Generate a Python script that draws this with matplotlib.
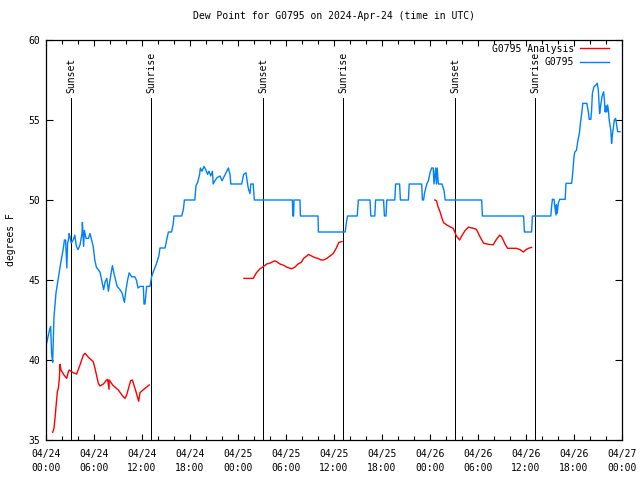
import numpy as np
import matplotlib
matplotlib.use("Agg")
import matplotlib.pyplot as plt

# ---- data (hours since 2024-04-24 00:00 UTC, dew point in F) ----
obs_points = [
    (0.0, 40.9), (0.17, 41.25), (0.4, 41.8), (0.58, 42.1), (0.7, 40.4), (0.83, 39.85), (1.0, 42.7),
    (1.25, 44.2), (1.5, 45.0), (1.75, 45.8), (1.9, 46.25), (2.0, 46.5), (2.2, 47.1), (2.3, 47.5),
    (2.45, 47.5), (2.6, 45.75), (2.7, 47.3), (2.8, 47.5), (2.9, 47.9), (3.0, 47.7), (3.15, 47.3),
    (3.4, 47.5), (3.6, 47.8), (3.8, 47.1), (4.0, 46.9), (4.25, 47.2), (4.5, 47.9), (4.55, 48.6),
    (4.7, 47.1), (4.8, 48.1), (5.0, 47.6), (5.3, 47.6), (5.5, 47.9), (5.7, 47.5), (5.9, 47.1),
    (6.1, 46.25), (6.3, 45.8), (6.75, 45.5), (6.95, 45.0), (7.2, 44.4), (7.4, 44.9), (7.6, 45.1),
    (7.8, 44.3), (8.0, 45.0), (8.2, 45.6), (8.3, 45.9), (8.5, 45.4), (8.7, 45.0), (8.9, 44.6),
    (9.25, 44.4), (9.5, 44.2), (9.8, 43.6), (10.0, 44.4), (10.2, 45.0), (10.4, 45.45), (10.7, 45.2),
    (11.1, 45.2), (11.3, 45.0), (11.5, 44.5), (11.75, 44.6), (12.17, 44.6), (12.25, 43.5),
    (12.375, 43.5), (12.58, 44.6), (13.0, 44.6), (13.2, 45.2), (13.4, 45.5), (13.8, 46.0),
    (14.1, 46.5), (14.25, 47.0), (14.88, 47.0), (15.08, 47.5), (15.3, 48.0), (15.7, 48.0),
    (15.9, 48.5), (16.0, 49.0), (16.96, 49.0), (17.17, 49.4), (17.3, 50.0), (18.6, 50.0),
    (18.75, 50.9), (18.96, 51.1), (19.2, 51.6), (19.3, 52.0), (19.5, 51.8), (19.75, 52.1),
    (19.96, 51.9), (20.2, 51.6), (20.375, 51.8), (20.6, 51.5), (20.8, 51.8), (20.9, 51.0),
    (21.1, 51.2), (21.4, 51.4), (21.75, 51.5), (22.0, 51.2), (22.3, 51.5), (22.6, 51.8),
    (22.8, 52.0), (23.0, 51.6), (23.1, 51.0), (24.46, 51.0), (24.7, 51.6), (25.0, 51.7),
    (25.2, 51.0), (25.3, 50.7), (25.5, 50.4), (25.6, 51.0), (25.9, 51.0), (26.04, 50.0),
    (30.8, 50.0), (30.85, 49.0), (30.95, 49.0), (31.0, 50.0), (31.75, 50.0), (31.8, 49.0),
    (34.0, 49.0), (34.05, 48.0), (37.4, 48.0), (37.55, 48.6), (37.7, 49.0), (38.9, 49.0),
    (39.05, 50.0), (40.5, 50.0), (40.6, 49.0), (41.1, 49.0), (41.2, 50.0), (42.2, 50.0),
    (42.3, 49.0), (42.5, 49.0), (42.6, 50.0), (43.6, 50.0), (43.7, 51.0), (44.2, 51.0),
    (44.3, 50.0), (45.3, 50.0), (45.4, 51.0), (46.96, 51.0), (47.05, 50.0), (47.2, 50.0),
    (47.3, 50.4), (47.4, 50.6), (47.6, 51.0), (47.8, 51.2), (48.0, 51.7), (48.2, 52.0),
    (48.4, 52.0), (48.5, 51.0), (48.7, 52.0), (48.8, 51.0), (48.9, 52.0), (49.04, 51.0),
    (49.5, 51.0), (49.75, 50.6), (49.9, 50.0), (54.46, 50.0), (54.55, 49.0), (59.7, 49.0),
    (59.8, 48.0), (60.7, 48.0), (60.8, 49.0), (63.1, 49.0), (63.2, 49.58), (63.3, 50.04),
    (63.5, 50.04), (63.6, 49.6), (63.75, 49.06), (63.8, 49.7), (63.9, 49.17), (64.04, 49.8),
    (64.2, 50.04), (64.9, 50.04), (65.0, 51.04), (65.7, 51.04), (65.8, 51.46), (65.9, 52.08),
    (66.0, 52.7), (66.1, 53.0), (66.3, 53.1), (66.5, 53.75), (66.7, 54.27), (66.8, 54.8),
    (66.96, 55.4), (67.1, 56.04), (67.6, 56.04), (67.8, 55.5), (67.9, 55.04), (68.1, 55.04),
    (68.2, 55.6), (68.3, 56.67), (68.5, 57.08), (68.75, 57.19), (68.9, 57.3), (69.04, 56.875),
    (69.2, 55.4), (69.25, 55.6), (69.5, 56.46), (69.7, 56.77), (69.8, 56.25), (69.9, 55.5),
    (70.0, 55.875), (70.1, 55.5), (70.2, 55.94), (70.3, 55.6), (70.4, 55.0), (70.6, 54.375),
    (70.7, 53.54), (70.8, 54.06), (71.04, 55.0), (71.2, 55.1), (71.3, 54.8), (71.46, 54.27),
    (71.75, 54.27),
]

ana1_hours = [0.83, 1.0, 1.125, 1.25, 1.42, 1.54, 1.67, 1.75, 1.875, 2.25, 2.58, 2.8, 2.9, 3.42, 3.83, 4.25,
              4.67, 4.875, 5.3, 5.9, 6.125, 6.54, 6.75, 7.17, 7.58, 7.7, 7.875, 7.9, 8.33, 9.04, 9.58, 9.875,
              10.08, 10.58, 10.8, 11.25, 11.58, 11.75, 12.375, 12.9]
ana1_dewpt = [35.48, 35.73, 36.35, 37.08, 38.02, 38.23, 38.85, 39.73, 39.375, 39.06, 38.85, 39.27, 39.375, 39.2,
              39.125, 39.69, 40.31, 40.42, 40.17, 39.9, 39.48, 38.54, 38.375, 38.5, 38.75, 38.79, 38.17, 38.75,
              38.44, 38.125, 37.75, 37.6, 37.81, 38.71, 38.75, 38.02, 37.42, 37.96, 38.23, 38.44]

ana2_hours = [24.75, 25.9, 26.3, 26.75, 27.2, 27.6, 28.0, 28.6, 28.8, 29.25, 29.7, 30.1, 30.7, 31.1, 31.5, 31.9,
              32.2, 32.6, 32.8, 33.2, 33.6, 34.0, 34.4, 34.7, 35.1, 35.5, 35.9, 36.3, 36.6, 37.0]
ana2_dewpt = [45.1, 45.1, 45.45, 45.7, 45.85, 46.0, 46.06, 46.2, 46.15, 46.0, 45.92, 45.8, 45.7, 45.8, 46.0, 46.1,
              46.35, 46.5, 46.6, 46.5, 46.4, 46.35, 46.25, 46.25, 46.35, 46.5, 46.65, 47.0, 47.35, 47.4]

ana3_hours = [48.6, 48.8, 49.0, 49.25, 49.5, 49.7, 50.1, 50.5, 50.9, 51.1, 51.3, 51.7, 51.96, 52.4, 52.8, 53.4,
              53.8, 54.25, 54.7, 55.3, 55.9, 56.3, 56.7, 56.96, 57.4, 57.7, 58.8, 59.25, 59.67, 60.0, 60.3, 60.7]
ana3_dewpt = [50.0, 49.96, 49.58, 49.27, 48.85, 48.58, 48.44, 48.33, 48.23, 48.0, 47.75, 47.5, 47.75, 48.1, 48.3,
              48.23, 48.17, 47.7, 47.3, 47.23, 47.2, 47.54, 47.8, 47.7, 47.23, 46.98, 46.98, 46.9, 46.75, 46.9,
              46.98, 47.04]

sun_hours = [3.125, 13.125, 27.125, 37.125, 51.125, 61.125]
sun_labels = ["Sunset", "Sunrise", "Sunset", "Sunrise", "Sunset", "Sunrise"]

tick_hours = list(range(0, 73, 6))
tick_labels = ["04/24\n00:00", "04/24\n06:00", "04/24\n12:00", "04/24\n18:00",
               "04/25\n00:00", "04/25\n06:00", "04/25\n12:00", "04/25\n18:00",
               "04/26\n00:00", "04/26\n06:00", "04/26\n12:00", "04/26\n18:00", "04/27\n00:00"]

obs_hours = [p[0] for p in obs_points]
obs_dewpt = [p[1] for p in obs_points]

FONT = "DejaVu Sans Mono"
plt.rcParams["font.family"] = FONT
plt.rcParams["font.size"] = 7

fig = plt.figure(figsize=(6.4, 4.8), dpi=100)
ax = fig.add_axes([46/640, 40/480, 576/640, 400/480])

red = "#ff0000"
blue = "#0080ff"

for h in sun_hours:
    ax.plot([h, h], [35, 56.4], color="black", lw=0.72)
for h, lab in zip(sun_hours, sun_labels):
    ax.text(h, 56.7, lab, rotation=90, ha="center", va="bottom", fontsize=7)

ax.plot(ana1_hours, ana1_dewpt, color=red, lw=1.0, label="G0795 Analysis")
ax.plot(ana2_hours, ana2_dewpt, color=red, lw=1.0)
ax.plot(ana3_hours, ana3_dewpt, color=red, lw=1.0)
ax.plot(obs_hours, obs_dewpt, color=blue, lw=1.0, label="G0795")

ax.set_xlim(0, 72)
ax.set_ylim(35, 60)
ax.set_xticks(tick_hours)
ax.set_xticklabels(tick_labels, linespacing=1.55)
ax.set_xticks(list(range(0, 73, 2)), minor=True)
ax.set_yticks([35, 40, 45, 50, 55, 60])
ax.tick_params(axis="both", which="both", direction="in", top=True, right=True, width=0.8, labelsize=7)
ax.tick_params(axis="x", which="major", length=4, pad=6.5)
ax.tick_params(axis="x", which="minor", length=3)
ax.tick_params(axis="y", which="major", length=5, pad=4)
for s in ax.spines.values():
    s.set_linewidth(0.9)

ax.set_title("Dew Point for G0795 on 2024-Apr-24 (time in UTC)", fontsize=7, pad=15)
ax.set_ylabel("degrees F", fontsize=7)
ax.yaxis.set_label_coords(-0.052, 0.5)

ax.legend(loc="upper right", markerfirst=False, frameon=False, fontsize=7, handlelength=3.0,
          handletextpad=0.6, borderaxespad=0.0, labelspacing=0.35,
          bbox_to_anchor=(1 - 9/576, 1 + 0/400))

fig.savefig("out.png", dpi=100)
